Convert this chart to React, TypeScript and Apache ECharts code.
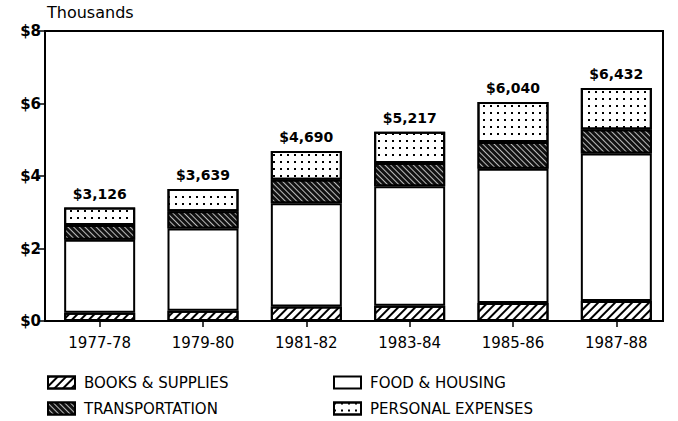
import React, { useEffect, useRef } from "react";
import * as echarts from "echarts";

const categories = ["1977-78", "1979-80", "1981-82", "1983-84", "1985-86", "1987-88"];
const books = [0.23, 0.28, 0.4, 0.42, 0.5, 0.55];
const food = [2.01, 2.27, 2.85, 3.3, 3.7, 4.07];
const transportation = [0.41, 0.48, 0.65, 0.64, 0.74, 0.66];
const personal = [0.48, 0.61, 0.79, 0.86, 1.1, 1.15];
const totalLabels = ["$3,126", "$3,639", "$4,690", "$5,217", "$6,040", "$6,432"];
const yTicks = [0, 2, 4, 6, 8];
const seriesNames = ["BOOKS & SUPPLIES", "FOOD & HOUSING", "TRANSPORTATION", "PERSONAL EXPENSES"];

const FONT = "DejaVu Sans";

export default function App() {
  const ref = useRef<HTMLDivElement>(null);
  useEffect(() => {
    document.body.style.margin = "0";
    if (!ref.current) return;
    const chart = echarts.init(ref.current, null, { renderer: "svg" });
    const border = { borderColor: "#000", borderWidth: 2 };
    const legendPos = [
      { left: 47, top: 375 },
      { left: 333, top: 375 },
      { left: 47, top: 401 },
      { left: 333, top: 401 },
    ];
    chart.setOption({
      animation: false,
      backgroundColor: "#fff",
      textStyle: { fontFamily: FONT, color: "#000" },
      grid: { left: 48, right: 10, top: 31, bottom: 100 },
      graphic: [
        {
          type: "rect",
          shape: { x: 45, y: 31, width: 618, height: 290 },
          style: { fill: "none", stroke: "#000", lineWidth: 2 },
          z: 10,
        },
        {
          type: "text",
          left: 47,
          top: 4,
          style: { text: "Thousands", fontFamily: FONT, fontSize: 16, fill: "#000" },
        },
      ],
      legend: seriesNames.map((name, i) => ({
        data: [name],
        ...legendPos[i],
        padding: 0,
        itemWidth: 27,
        itemHeight: 12,
        icon: "rect",
        textStyle: { fontFamily: FONT, fontSize: 15, color: "#000", padding: [0, 0, 0, 4] },
      })),
      xAxis: {
        type: "category",
        data: categories,
        axisLine: { show: false },
        axisTick: { show: true, alignWithLabel: true, length: 6, lineStyle: { color: "#000", width: 1.5 } },
        axisLabel: { fontFamily: FONT, fontSize: 15, color: "#000", margin: 14 },
      },
      yAxis: {
        type: "value",
        min: 0,
        max: 8,
        interval: 2,
        offset: 3,
        axisLine: { show: true, lineStyle: { color: "#000", width: 2 } },
        axisTick: { show: true, length: 7, lineStyle: { color: "#000", width: 1.5 } },
        splitLine: { show: false },
        axisLabel: {
          fontFamily: FONT,
          fontSize: 15,
          fontWeight: "bold",
          color: "#000",
          margin: 4,
          formatter: (v: number) => (yTicks.includes(v) ? `$${v}` : ""),
        },
      },
      series: [
        {
          name: seriesNames[0],
          type: "bar",
          stack: "total",
          barWidth: 71,
          data: books,
          itemStyle: {
            color: "#fff",
            ...border,
            decal: {
              symbol: "rect",
              symbolSize: 1,
              dashArrayX: [1, 0],
              dashArrayY: [2, 4],
              rotation: -Math.PI / 4,
              color: "#000",
            },
          },
        },
        {
          name: seriesNames[1],
          type: "bar",
          stack: "total",
          data: food,
          itemStyle: { color: "#fff", ...border },
        },
        {
          name: seriesNames[2],
          type: "bar",
          stack: "total",
          data: transportation,
          itemStyle: {
            color: "#111",
            ...border,
            decal: {
              symbol: "rect",
              symbolSize: 1,
              dashArrayX: [1, 0],
              dashArrayY: [1, 3],
              rotation: Math.PI / 4,
              color: "#bbb",
            },
          },
        },
        {
          name: seriesNames[3],
          type: "bar",
          stack: "total",
          data: personal,
          itemStyle: {
            color: "#fff",
            ...border,
            decal: {
              symbol: "rect",
              symbolSize: 1,
              dashArrayX: [2, 5],
              dashArrayY: [2, 5],
              color: "#000",
            },
          },
          label: {
            show: true,
            position: "top",
            distance: 7,
            fontFamily: FONT,
            fontSize: 14,
            fontWeight: "bold",
            color: "#000",
            formatter: (p: any) => totalLabels[p.dataIndex],
          },
        },
      ],
    });
    return () => chart.dispose();
  }, []);
  return <div ref={ref} style={{ width: 678, height: 421 }} />;
}
